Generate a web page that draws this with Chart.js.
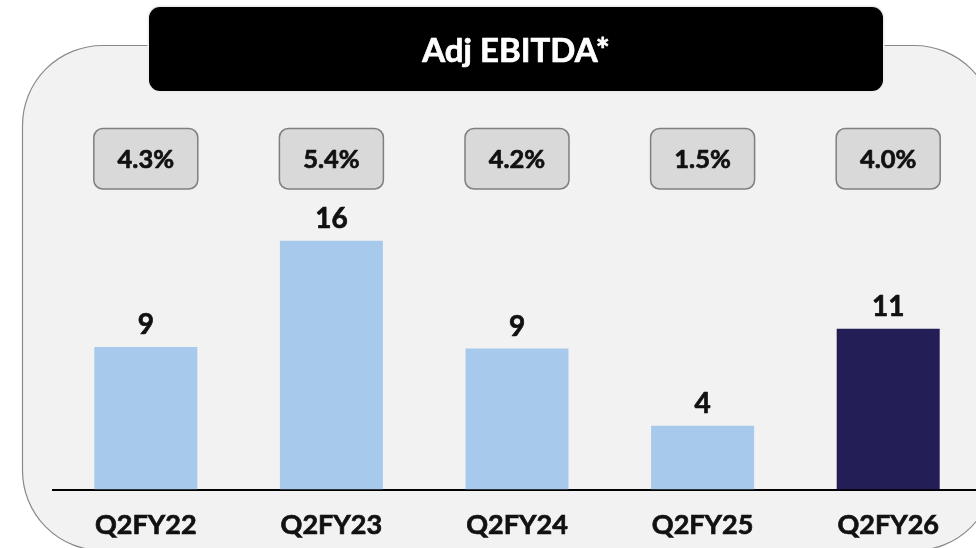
<!DOCTYPE html>
<html><head><meta charset="utf-8">
<script src="https://cdn.jsdelivr.net/npm/chart.js@4.4.1/dist/chart.umd.min.js"></script>
<style>
html,body{margin:0;padding:0;background:#fff;overflow:hidden;width:976px;height:548px}
#wrap{position:absolute;left:0;top:0;width:981px;height:548px}
canvas{display:block}
</style></head>
<body><div id="wrap"><canvas id="c" width="981" height="548"></canvas></div>
<script>
const categories = ['Q2FY22', 'Q2FY23', 'Q2FY24', 'Q2FY25', 'Q2FY26'];
const ebitda = [9.4, 16.4, 9.3, 4.2, 10.6];
const marginLabels = ['4.3%', '5.4%', '4.2%', '1.5%', '4.0%'];
const chartTitle = 'Adj EBITDA*';
const barColors = ['#a7caec', '#a7caec', '#a7caec', '#a7caec', '#231f56'];
const yMax = 32.27;
const FONT = 'Lato, "Open Sans", sans-serif';

function rr(ctx, x, y, w, h, r) {
  ctx.beginPath();
  ctx.moveTo(x + r, y);
  ctx.lineTo(x + w - r, y);
  ctx.arcTo(x + w, y, x + w, y + r, r);
  ctx.lineTo(x + w, y + h - r);
  ctx.arcTo(x + w, y + h, x + w - r, y + h, r);
  ctx.lineTo(x + r, y + h);
  ctx.arcTo(x, y + h, x, y + h - r, r);
  ctx.lineTo(x, y + r);
  ctx.arcTo(x, y, x + r, y, r);
  ctx.closePath();
}

function boldText(ctx, txt, x, y, color) {
  ctx.fillStyle = color;
  ctx.strokeStyle = color;
  ctx.lineWidth = 0.7;
  ctx.lineJoin = 'round';
  ctx.fillText(txt, x, y);
  ctx.strokeText(txt, x, y);
}

const decor = {
  id: 'decor',
  beforeDraw(chart) {
    const ctx = chart.ctx;
    ctx.save();
    ctx.fillStyle = '#ffffff';
    ctx.fillRect(0, 0, chart.width, chart.height);
    // panel
    rr(ctx, 22.5, 45.5, 972, 505, 80);
    ctx.fillStyle = '#f2f2f2';
    ctx.fill();
    ctx.lineWidth = 1.2;
    ctx.strokeStyle = '#8a8a8a';
    ctx.stroke();
    // title box
    rr(ctx, 149, 7, 734, 84, 11);
    ctx.lineWidth = 3;
    ctx.strokeStyle = '#ececec';
    ctx.stroke();
    ctx.fillStyle = '#000000';
    ctx.fill();
    ctx.font = 'bold 33px ' + FONT;
    ctx.textAlign = 'center';
    ctx.textBaseline = 'alphabetic';
    boldText(ctx, chartTitle, 516, 62, '#ffffff');
    ctx.restore();
  },
  afterDatasetsDraw(chart) {
    const ctx = chart.ctx;
    const meta = chart.getDatasetMeta(0);
    const xs = chart.scales.x;
    ctx.save();
    ctx.textAlign = 'center';
    ctx.textBaseline = 'alphabetic';
    meta.data.forEach((bar, i) => {
      const cx = xs.getPixelForValue(i);
      // value label
      ctx.font = 'bold 28px ' + FONT;
      boldText(ctx, String(Math.round(ebitda[i])), cx, bar.y - 12.5, '#111111');
      // margin box
      rr(ctx, cx - 52, 128.5, 104, 60.5, 9);
      ctx.fillStyle = '#d9d9d9';
      ctx.fill();
      ctx.lineWidth = 1.5;
      ctx.strokeStyle = '#7f7f7f';
      ctx.stroke();
      ctx.font = 'bold 25.5px ' + FONT;
      boldText(ctx, marginLabels[i], cx, 168.3, '#111111');
    });
    ctx.restore();
  }
};

function build() {
  new Chart(document.getElementById('c'), {
    type: 'bar',
    data: {
      labels: categories,
      datasets: [{
        data: ebitda,
        backgroundColor: barColors,
        borderWidth: 0,
        barPercentage: 0.555,
        categoryPercentage: 1
      }]
    },
    options: {
      responsive: false,
      animation: false,
      devicePixelRatio: 1,
      layout: { padding: { left: 53, right: 0, top: 0, bottom: 0 } },
      plugins: { legend: { display: false }, tooltip: { enabled: false }, title: { display: false } },
      scales: {
        x: {
          grid: { display: false },
          border: { display: true, color: '#000000', width: 2 },
          ticks: {
            color: '#111111',
            font: { family: FONT, weight: 'bold', size: 27 },
            padding: 12,
            maxRotation: 0,
            textStrokeColor: '#111111',
            textStrokeWidth: 0.7
          },
          afterFit(s) { s.height = 58.5; }
        },
        y: {
          display: false,
          min: 0,
          max: yMax
        }
      }
    },
    plugins: [decor]
  });
}

if (document.fonts && document.fonts.load) {
  Promise.all([
    document.fonts.load('bold 27px Lato'),
    document.fonts.load('27px Lato')
  ]).then(build, build);
} else { build(); }
</script>
</body></html>
